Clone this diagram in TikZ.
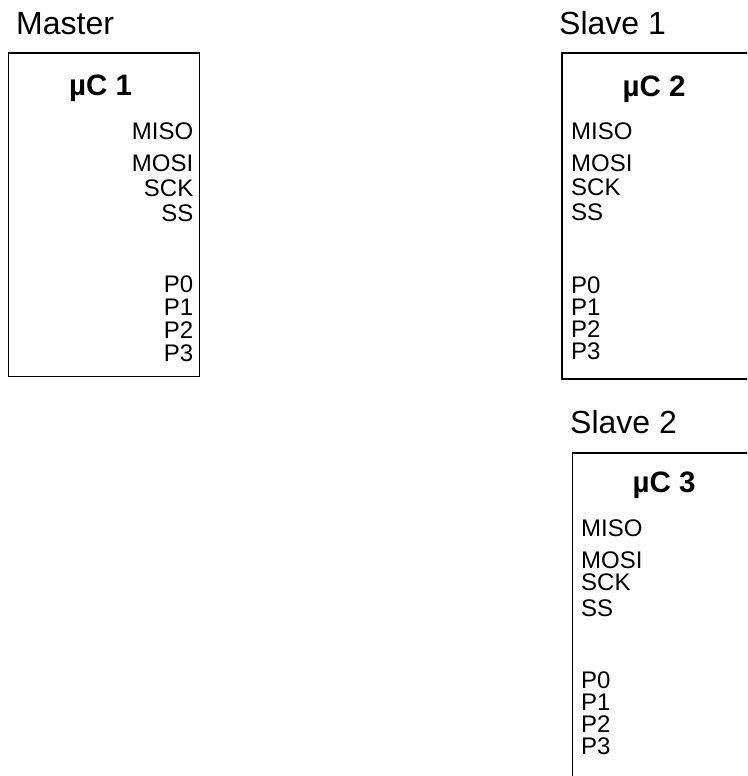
\documentclass[tikz,border=0pt]{standalone}
\usepackage{fontspec}
\setmainfont{Liberation Sans}
\tikzset{
  chipbox/.style={draw=black, line width=1.9pt},
  blocktitle/.style={anchor=base west, inner sep=0pt, font=\fontsize{32}{32}\selectfont},
  chipname/.style={anchor=base, inner sep=0pt, font=\bfseries\fontsize{29.5}{29.5}\selectfont},
  pinR/.style={anchor=base east, inner sep=0pt, font=\fontsize{24}{24}\selectfont},
  pinL/.style={anchor=base west, inner sep=0pt, font=\fontsize{24}{24}\selectfont},
}
\begin{document}
\begin{tikzpicture}[x=1pt, y=-1pt]
  \clip (0,0) rectangle (747,776);

  % Master
  \node[blocktitle] (tm) at (16,35) {Master};
  \draw[chipbox] (8.5,53) rectangle (199.5,376.5);
  \node[chipname] (c1) at (100.5,95) {µC 1};
  \node[pinR] (m1) at (193.5,139) {MISO};
  \node[pinR] (m2) at (193.5,171) {MOSI};
  \node[pinR] (m3) at (193.5,196) {SCK};
  \node[pinR] (m4) at (193.5,221) {SS};
  \node[pinR] (m5) at (193.5,292) {P0};
  \node[pinR] (m6) at (193.5,315) {P1};
  \node[pinR] (m7) at (193.5,338) {P2};
  \node[pinR] (m8) at (193.5,361) {P3};

  % Slave 1
  \node[blocktitle] (ts1) at (559,35) {Slave 1};
  \draw[chipbox] (562,53) rectangle (760,379);
  \node[chipname] (c2) at (654,96) {µC 2};
  \node[pinL] (a1) at (571,139) {MISO};
  \node[pinL] (a2) at (571,171) {MOSI};
  \node[pinL] (a3) at (571,195) {SCK};
  \node[pinL] (a4) at (571,220) {SS};
  \node[pinL] (a5) at (571,293) {P0};
  \node[pinL] (a6) at (571,315) {P1};
  \node[pinL] (a7) at (571,337) {P2};
  \node[pinL] (a8) at (571,359) {P3};

  % Slave 2
  \node[blocktitle] (ts2) at (570,433) {Slave 2};
  \draw[chipbox] (572.5,453) rectangle (760,800);
  \node[chipname] (c3) at (664,492) {µC 3};
  \node[pinL] (b1) at (581,536) {MISO};
  \node[pinL] (b2) at (581,568) {MOSI};
  \node[pinL] (b3) at (581,590) {SCK};
  \node[pinL] (b4) at (581,616) {SS};
  \node[pinL] (b5) at (581,688) {P0};
  \node[pinL] (b6) at (581,710) {P1};
  \node[pinL] (b7) at (581,732) {P2};
  \node[pinL] (b8) at (581,754) {P3};
\end{tikzpicture}
\end{document}
